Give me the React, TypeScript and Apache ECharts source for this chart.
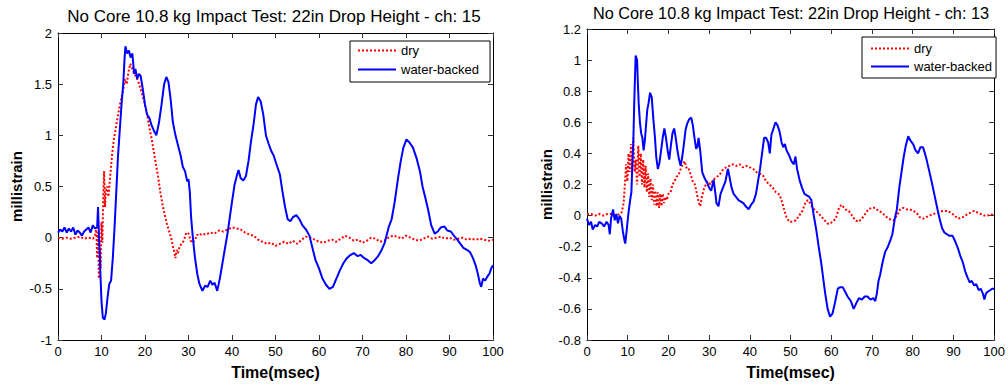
import React, { useEffect, useRef } from "react";
import * as echarts from "echarts";

// ---------- Data ----------
const xTicks = { min: 0, max: 100, interval: 10 };
const titles = [
  "No Core 10.8 kg Impact Test: 22in Drop Height - ch: 15",
  "No Core 10.8 kg Impact Test: 22in Drop Height - ch: 13",
];
const seriesNames = ["dry", "water-backed"];

// ch 15 (left) - dry
const ch15DryT = [0, 1, 2, 3, 4, 5, 6, 7, 8, 8.5, 8.8, 9.0, 9.2, 9.4, 9.6, 9.8, 10.0, 10.2, 10.4, 10.6, 10.8, 11, 11.3, 11.6, 12, 12.4, 12.8, 13.2, 13.6, 14, 14.5, 15, 15.4, 15.8, 16.2, 16.6, 17, 17.5, 18, 18.5, 19, 19.5, 20, 20.5, 21, 21.5, 22, 22.5, 23, 23.5, 24, 24.5, 25, 25.5, 26, 26.5, 26.8, 27, 27.3, 27.6, 28, 28.5, 29, 29.5, 30, 30.5, 31, 31.5, 32, 32.5, 33, 34, 35, 36, 37, 38, 39, 40, 41, 42, 43, 44, 45, 46, 47, 48, 49, 50, 51, 52, 53, 54, 55, 56, 57, 58, 59, 60, 61, 62, 63, 64, 65, 66, 67, 68, 69, 70, 71, 72, 73, 74, 75, 76, 77, 78, 79, 80, 81, 82, 83, 84, 85, 86, 87, 88, 89, 90, 91, 92, 93, 94, 95, 96, 97, 98, 99, 100];
const ch15DryV = [0, -0.01, 0, -0.01, 0, 0.01, -0.01, 0, -0.01, 0.01, 0.1, -0.2, 0.05, -0.4, -0.1, -0.3, 0.15, -0.05, 0.4, 0.65, 0.3, 0.45, 0.5, 0.4, 0.6, 0.8, 0.95, 1.05, 1.15, 1.25, 1.35, 1.45, 1.55, 1.5, 1.62, 1.7, 1.66, 1.6, 1.57, 1.52, 1.45, 1.38, 1.3, 1.2, 1.08, 0.97, 0.85, 0.72, 0.6, 0.45, 0.33, 0.23, 0.14, 0.07, 0.0, -0.1, -0.15, -0.2, -0.12, -0.15, -0.08, -0.06, -0.02, 0.05, 0.04, -0.03, -0.05, -0.02, 0.03, 0.02, 0.04, 0.03, 0.05, 0.04, 0.07, 0.06, 0.08, 0.1, 0.09, 0.08, 0.05, 0.03, 0.02, -0.02, -0.04, -0.06, -0.05, -0.08, -0.06, -0.04, -0.06, -0.03, -0.06, -0.02, 0.01, 0.0, -0.02, -0.04, -0.05, -0.03, -0.02, -0.04, -0.01, 0.02, 0.0, -0.03, -0.02, -0.05, -0.03, 0.0, -0.01, -0.04, -0.03, 0.0, 0.02, 0.01, -0.01, 0.02, 0.0, -0.02, -0.03, -0.01, 0.01, -0.01, 0.0, 0.01, -0.01, 0.0, -0.02, -0.01, 0.0, -0.02, -0.01, -0.02, -0.01, -0.02, -0.03, -0.02];

// ch 15 (left) - water-backed
const ch15WetT = [0, 0.5, 1, 1.5, 2, 2.5, 3, 3.5, 4, 4.5, 5, 5.5, 6, 6.5, 7, 7.5, 8, 8.5, 9, 9.2, 9.4, 9.7, 10, 10.3, 10.7, 11, 11.4, 11.8, 12.2, 12.6, 13, 13.4, 13.8, 14.2, 14.6, 15, 15.3, 15.5, 15.9, 16.3, 16.7, 17.1, 17.5, 17.8, 18.2, 18.6, 19, 19.5, 20, 20.5, 21, 21.5, 22, 22.6, 23.2, 23.8, 24.4, 24.9, 25.4, 25.9, 26.4, 27, 27.6, 28.2, 28.7, 29.2, 29.7, 30, 30.3, 30.6, 31, 31.5, 32, 32.5, 33.2, 33.8, 34.4, 35, 35.5, 36, 36.6, 37.2, 37.8, 38.4, 39, 39.5, 40, 40.6, 41.2, 41.5, 42, 42.6, 43.2, 43.8, 44.4, 45, 45.5, 46, 46.6, 47.2, 47.8, 48.4, 49, 49.6, 50.2, 51, 51.6, 52.2, 52.8, 53.4, 54, 54.8, 55.5, 56.2, 57, 57.8, 58.5, 59.2, 60, 60.8, 61.6, 62.4, 63.2, 64, 64.8, 65.6, 66.4, 67.2, 68, 68.8, 69.6, 70.4, 71.2, 72, 72.8, 73.6, 74.4, 75.1, 76, 76.7, 77.4, 78.2, 78.8, 79.4, 80.1, 80.8, 81.6, 82.4, 83.2, 83.8, 84.5, 85.1, 85.8, 86.6, 87.3, 88, 88.8, 89.5, 90.3, 91, 91.8, 92.5, 93.2, 94, 94.7, 95.4, 96, 96.5, 97, 97.3, 97.7, 98.2, 98.7, 99.2, 99.6, 100];
const ch15WetV = [0.05, 0.08, 0.06, 0.1, 0.05, 0.09, 0.06, 0.1, 0.03, 0.07, 0.05, 0.02, 0.06, 0.08, 0.1, 0.05, 0.12, 0.09, 0.1, 0.3, 0.05, -0.3, -0.62, -0.78, -0.8, -0.74, -0.58, -0.45, -0.42, -0.2, 0.1, 0.45, 0.8, 1.05, 1.3, 1.5, 1.75, 1.87, 1.8, 1.83, 1.76, 1.8, 1.6, 1.65, 1.55, 1.6, 1.58, 1.45, 1.3, 1.2, 1.17, 1.1, 1.05, 1.0, 1.12, 1.3, 1.5, 1.57, 1.52, 1.35, 1.13, 1.0, 0.9, 0.8, 0.69, 0.65, 0.55, 0.57, 0.45, 0.2, 0.0, -0.2, -0.35, -0.45, -0.52, -0.47, -0.48, -0.42, -0.46, -0.44, -0.52, -0.4, -0.25, -0.1, 0.05, 0.2, 0.35, 0.52, 0.62, 0.66, 0.58, 0.56, 0.6, 0.75, 0.95, 1.12, 1.3, 1.375, 1.33, 1.2, 1.0, 0.92, 0.85, 0.8, 0.72, 0.62, 0.45, 0.3, 0.18, 0.16, 0.2, 0.22, 0.18, 0.12, 0.08, 0.02, -0.1, -0.22, -0.3, -0.4, -0.46, -0.5, -0.48, -0.4, -0.32, -0.25, -0.2, -0.17, -0.15, -0.18, -0.17, -0.2, -0.22, -0.25, -0.22, -0.18, -0.12, -0.05, 0.1, 0.18, 0.35, 0.59, 0.75, 0.88, 0.96, 0.93, 0.88, 0.78, 0.65, 0.5, 0.38, 0.27, 0.12, 0.04, 0.06, 0.1, 0.11, 0.07, 0.06, 0.02, -0.02, -0.06, -0.1, -0.12, -0.14, -0.2, -0.27, -0.35, -0.45, -0.48, -0.4, -0.42, -0.38, -0.35, -0.3, -0.27];

// ch 13 (right) - dry
const ch13DryT = [0, 1, 2, 3, 4, 5, 6, 7, 8, 8.5, 9, 9.3, 9.6, 9.9, 10.2, 10.5, 10.8, 11.1, 11.4, 11.7, 12, 12.3, 12.6, 12.9, 13.2, 13.5, 13.8, 14.1, 14.4, 14.7, 15, 15.3, 15.6, 15.9, 16.2, 16.5, 16.8, 17.1, 17.4, 17.7, 18, 18.3, 18.6, 18.9, 19.2, 19.6, 20, 20.5, 21, 21.5, 22, 22.5, 23, 23.5, 24, 24.5, 25, 25.5, 26, 26.5, 27, 27.4, 27.8, 28.2, 28.7, 29.2, 29.7, 30.3, 30.8, 31.4, 31.9, 32.5, 33, 33.5, 34.2, 35, 35.9, 36.7, 37.5, 38.3, 39.2, 40, 40.8, 41.6, 42.4, 43.2, 44, 44.8, 45.6, 46.4, 47.3, 48, 48.5, 49, 49.7, 50.5, 51.3, 52.1, 52.9, 53.6, 54.2, 54.8, 55.4, 56.2, 57, 58, 59, 59.5, 60.3, 61.1, 61.9, 62.5, 63.5, 64.3, 65.1, 65.9, 66.7, 67.5, 68.3, 69.1, 70, 70.8, 71.6, 72.4, 73.2, 74, 75.3, 76.1, 76.9, 77.7, 78.5, 79.3, 80.1, 80.9, 81.7, 82.5, 83.3, 84.1, 85, 86.2, 87.4, 88.6, 89.8, 91.1, 92.3, 93.5, 94.3, 95.1, 95.9, 96.7, 97.6, 98.4, 99.2, 100];
const ch13DryV = [0.01, 0.01, 0, 0.01, 0, 0.01, 0.01, 0, 0.01, 0.02, 0.08, 0.2, 0.33, 0.22, 0.4, 0.28, 0.46, 0.3, 0.5, 0.28, 0.36, 0.2, 0.45, 0.25, 0.4, 0.2, 0.36, 0.18, 0.32, 0.15, 0.27, 0.12, 0.24, 0.1, 0.2, 0.07, 0.16, 0.06, 0.15, 0.05, 0.14, 0.06, 0.14, 0.08, 0.12, 0.1, 0.14, 0.15, 0.2, 0.22, 0.25, 0.26, 0.3, 0.33, 0.35, 0.3, 0.3, 0.26, 0.22, 0.2, 0.14, 0.09, 0.06, 0.12, 0.17, 0.2, 0.22, 0.2, 0.22, 0.24, 0.25, 0.26, 0.28, 0.3, 0.31, 0.32, 0.33, 0.32, 0.33, 0.31, 0.32, 0.31, 0.3, 0.28, 0.27, 0.26, 0.22, 0.2, 0.18, 0.15, 0.135, 0.08, 0.03, -0.01, -0.04, -0.04, -0.03, 0.0, 0.03, 0.08, 0.1, 0.08, 0.05, 0.03, 0.01, -0.02, -0.05, -0.055, -0.04, -0.02, 0.05, 0.07, 0.04, 0.03, 0.0, -0.03, -0.04, -0.02, 0.01, 0.04, 0.05, 0.05, 0.03, 0.02, 0.0, -0.02, -0.03, 0.0, 0.04, 0.05, 0.04, 0.04, 0.03, 0.02, -0.01, -0.02, -0.01, 0.0, 0.01, 0.02, 0.03, 0.03, 0.01, -0.02, -0.01, 0.01, 0.02, 0.03, 0.02, 0.01, 0.0, 0.0, 0.01, 0.0];

// ch 13 (right) - water-backed
const ch13WetT = [0, 0.5, 1, 1.4, 2, 2.5, 3, 3.6, 4.2, 4.8, 5.3, 5.6, 5.9, 6.4, 6.8, 7.2, 7.6, 8.0, 8.4, 8.8, 9.2, 9.4, 9.8, 10.2, 10.6, 10.9, 11.1, 11.4, 11.6, 11.8, 11.95, 12.3, 12.5, 12.7, 13, 13.3, 13.6, 13.9, 14.2, 14.5, 14.8, 15.1, 15.5, 15.9, 16.3, 16.7, 17, 17.4, 17.8, 18.2, 18.6, 19, 19.4, 19.8, 20.2, 20.6, 21, 21.4, 21.8, 22.2, 22.6, 23, 23.4, 23.8, 24.2, 24.6, 25.1, 25.6, 26, 26.4, 26.8, 27.1, 27.4, 27.8, 28.3, 28.9, 29.5, 30, 30.5, 31.1, 31.5, 31.8, 32.3, 32.8, 33.4, 34, 34.6, 35, 35.5, 36, 36.6, 37.2, 37.8, 38.4, 39, 39.7, 40.3, 40.9, 41.5, 42, 42.5, 43, 43.5, 44, 44.5, 44.9, 45.3, 45.8, 46.3, 46.8, 47.3, 47.8, 48.2, 48.6, 49, 49.6, 50.2, 50.8, 51.2, 51.6, 52.2, 52.8, 53.4, 54, 54.6, 55.1, 55.7, 56.3, 56.9, 57.5, 58, 58.5, 59.1, 59.7, 60.3, 60.9, 61.6, 62.2, 62.8, 63.4, 64, 64.8, 65.5, 66.2, 66.8, 67.5, 68.2, 68.9, 69.6, 70.3, 70.8, 71.2, 71.6, 72, 72.6, 73.2, 73.9, 74.5, 75, 75.6, 76.1, 76.7, 77.3, 77.8, 78.3, 78.9, 79.5, 80.1, 80.7, 81.3, 81.9, 82.5, 83, 83.4, 84.2, 84.8, 85.4, 86, 86.6, 87.2, 87.8, 88.4, 89, 89.8, 90.5, 91.1, 91.7, 92.3, 92.9, 93.5, 94, 94.5, 95.1, 95.6, 96.2, 96.7, 97.2, 97.6, 98, 98.4, 99, 99.5, 100];
const ch13WetV = [-0.02, -0.06, -0.04, -0.09, -0.06, -0.07, -0.04, -0.05, -0.07, -0.04, -0.06, -0.12, -0.02, 0.04, -0.03, 0.01, -0.05, 0.0, -0.02, -0.1, -0.16, -0.18, -0.08, 0.02, 0.1, 0.15, 0.3, 0.5, 0.72, 0.9, 1.03, 1.0, 0.85, 0.72, 0.6, 0.53, 0.5, 0.42, 0.48, 0.58, 0.68, 0.72, 0.79, 0.76, 0.62, 0.5, 0.38, 0.3, 0.34, 0.42, 0.5, 0.56, 0.5, 0.42, 0.36, 0.45, 0.53, 0.56, 0.5, 0.42, 0.36, 0.32, 0.38, 0.46, 0.55, 0.59, 0.62, 0.63, 0.58, 0.5, 0.43, 0.44, 0.5, 0.42, 0.28, 0.24, 0.21, 0.18, 0.16, 0.23, 0.15, 0.08, 0.06, 0.14, 0.18, 0.22, 0.3, 0.25, 0.18, 0.14, 0.12, 0.1, 0.09, 0.08, 0.06, 0.04, 0.07, 0.09, 0.14, 0.22, 0.3, 0.4, 0.5, 0.5, 0.47, 0.4, 0.52, 0.56, 0.6, 0.58, 0.54, 0.47, 0.44, 0.46, 0.42, 0.39, 0.35, 0.33, 0.38, 0.3, 0.23, 0.18, 0.14, 0.13, 0.12, 0.1, 0.0, -0.09, -0.2, -0.3, -0.4, -0.5, -0.6, -0.65, -0.63, -0.56, -0.47, -0.46, -0.46, -0.49, -0.52, -0.55, -0.6, -0.56, -0.53, -0.54, -0.52, -0.52, -0.54, -0.53, -0.55, -0.5, -0.42, -0.38, -0.3, -0.235, -0.2, -0.16, -0.12, -0.02, 0.04, 0.18, 0.29, 0.38, 0.45, 0.51, 0.48, 0.46, 0.42, 0.4, 0.44, 0.44, 0.4, 0.36, 0.27, 0.2, 0.125, 0.05, -0.02, -0.08, -0.11, -0.12, -0.13, -0.13, -0.17, -0.21, -0.26, -0.3, -0.36, -0.4, -0.43, -0.42, -0.45, -0.44, -0.48, -0.47, -0.5, -0.54, -0.5, -0.49, -0.48, -0.47, -0.47];

const zip = (t: number[], v: number[]) => t.map((x, i) => [x, v[i]]);

const FONT = 'Arial, "Liberation Sans", Helvetica, sans-serif';
const RED = "#ff0000";
const BLUE = "#0000ff";

function xAxesFor(grid: number) {
  const base = {
    type: "value" as const,
    gridIndex: grid,
    min: xTicks.min,
    max: xTicks.max,
    interval: xTicks.interval,
    splitLine: { show: false },
    axisLine: { show: true, onZero: false, lineStyle: { color: "#000", width: 1 } },
    axisTick: { show: true, inside: true, length: 5, lineStyle: { color: "#333" } },
  };
  return [
    {
      ...base,
      position: "bottom",
      name: "Time(msec)",
      nameLocation: "middle",
      nameGap: 24,
      nameTextStyle: { fontFamily: FONT, fontSize: 16, fontWeight: "bold", color: "#000" },
      axisLabel: { show: true, margin: 5, fontFamily: FONT, fontSize: 13, color: "#000" },
    },
    { ...base, position: "top", axisLabel: { show: false } },
  ];
}

function yAxesFor(grid: number, min: number, max: number, interval: number, nameGap: number) {
  const base = {
    type: "value" as const,
    gridIndex: grid,
    min,
    max,
    interval,
    splitLine: { show: false },
    axisLine: { show: true, onZero: false, lineStyle: { color: "#000", width: 1 } },
    axisTick: { show: true, inside: true, length: 5, lineStyle: { color: "#333" } },
  };
  return [
    {
      ...base,
      position: "left",
      name: "millistrain",
      nameLocation: "middle",
      nameGap,
      nameTextStyle: { fontFamily: FONT, fontSize: 15, fontWeight: "bold", color: "#000" },
      axisLabel: { show: true, margin: 6, fontFamily: FONT, fontSize: 13, color: "#000" },
    },
    { ...base, position: "right", axisLabel: { show: false } },
  ];
}

function legendAt(left: number, top: number, padding: number[], gap: number) {
  return {
    orient: "vertical",
    left,
    top,
    data: seriesNames,
    backgroundColor: "#fff",
    borderColor: "#000",
    borderWidth: 1,
    borderRadius: 0,
    padding,
    itemWidth: 38,
    itemHeight: 14,
    itemGap: gap,
    selectedMode: false,
    itemStyle: { opacity: 0 },
    textStyle: { fontFamily: FONT, fontSize: 13, color: "#000" },
  };
}

export default function App() {
  const ref = useRef<HTMLDivElement>(null);

  useEffect(() => {
    if (!ref.current) return;
    const chart = echarts.init(ref.current, undefined, { renderer: "svg" });
    const lineCommon = { type: "line", showSymbol: false, symbol: "none", z: 3 };
    chart.setOption({
      animation: false,
      backgroundColor: "#fff",
      title: [
        {
          text: titles[0],
          left: 274,
          top: 8,
          textAlign: "center",
          padding: 0,
          textStyle: { fontFamily: FONT, fontSize: 17, fontWeight: "normal", color: "#000" },
        },
        {
          text: titles[1],
          left: 791,
          top: 5,
          textAlign: "center",
          padding: 0,
          textStyle: { fontFamily: FONT, fontSize: 16.3, fontWeight: "normal", color: "#000" },
        },
      ],
      legend: [legendAt(350, 41, [3, 11, 6, 7], 6), legendAt(862, 37, [5, 4, 5, 8], 5)],
      grid: [
        { left: 58, top: 33, width: 435, height: 313, containLabel: false },
        { left: 587, top: 29, width: 411, height: 315, containLabel: false },
      ],
      xAxis: [...xAxesFor(0), ...xAxesFor(1)],
      yAxis: [...yAxesFor(0, -1, 2, 0.5, 34), ...yAxesFor(1, -0.8, 1.2, 0.2, 33)],
      series: [
        {
          ...lineCommon,
          name: seriesNames[0],
          xAxisIndex: 0,
          yAxisIndex: 0,
          data: zip(ch15DryT, ch15DryV),
          lineStyle: { color: RED, width: 2, type: "dotted" },
          itemStyle: { color: RED },
        },
        {
          ...lineCommon,
          name: seriesNames[1],
          xAxisIndex: 0,
          yAxisIndex: 0,
          data: zip(ch15WetT, ch15WetV),
          lineStyle: { color: BLUE, width: 2 },
          itemStyle: { color: BLUE },
        },
        {
          ...lineCommon,
          name: seriesNames[0],
          xAxisIndex: 2,
          yAxisIndex: 2,
          data: zip(ch13DryT, ch13DryV),
          lineStyle: { color: RED, width: 2, type: "dotted" },
          itemStyle: { color: RED },
        },
        {
          ...lineCommon,
          name: seriesNames[1],
          xAxisIndex: 2,
          yAxisIndex: 2,
          data: zip(ch13WetT, ch13WetV),
          lineStyle: { color: BLUE, width: 2 },
          itemStyle: { color: BLUE },
        },
      ],
    });
    return () => chart.dispose();
  }, []);

  return (
    <div
      ref={ref}
      style={{ position: "absolute", left: 0, top: 0, width: 1008, height: 385, background: "#fff" }}
    />
  );
}
